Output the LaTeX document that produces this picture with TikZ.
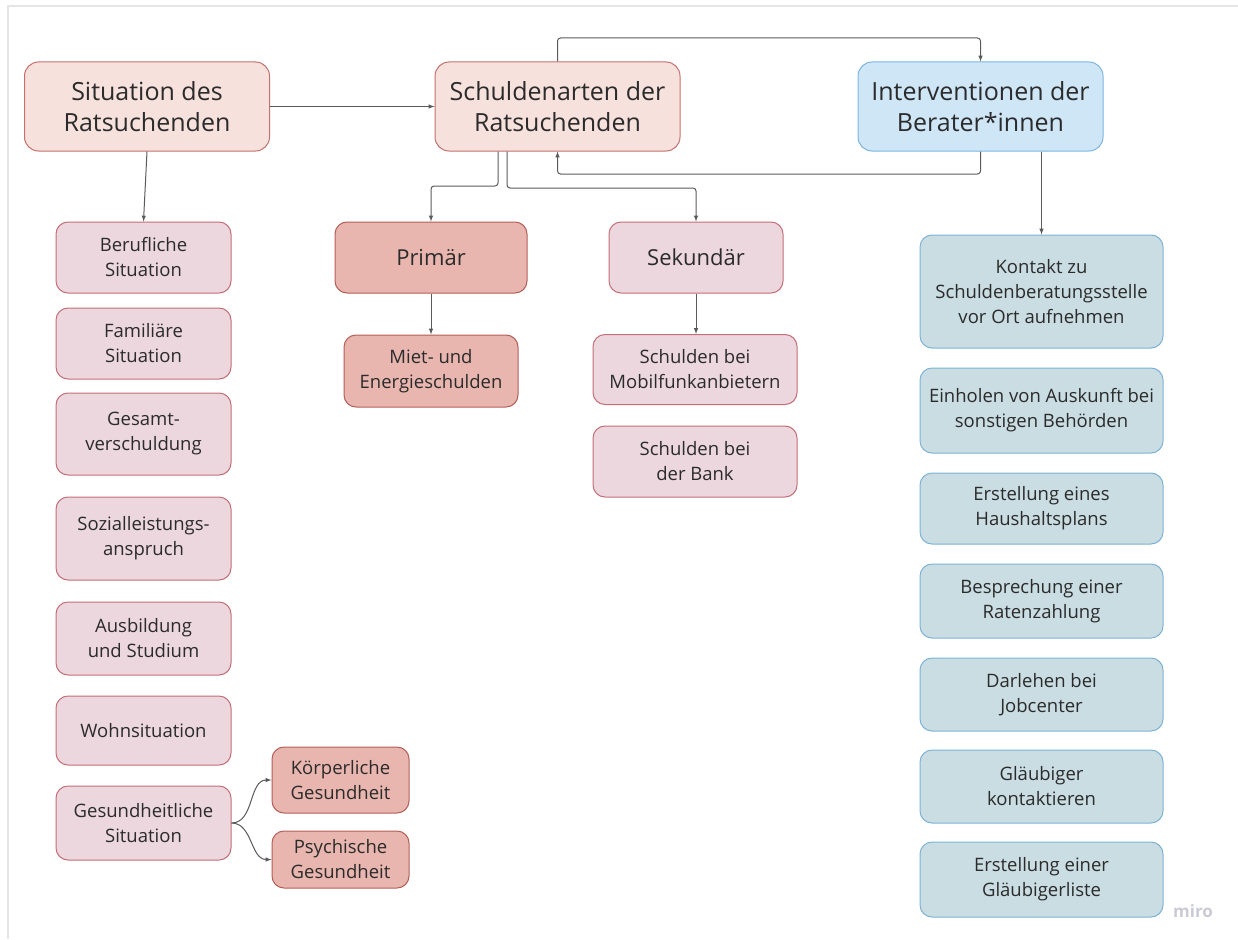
\documentclass[tikz,border=0pt]{standalone}
\usepackage{fontspec}
\setmainfont{Open Sans}
\usetikzlibrary{arrows,shapes,positioning}
\definecolor{inktext}{HTML}{2B2B2B}
\definecolor{linkgray}{HTML}{5A5A5A}
\definecolor{peachfill}{HTML}{F7E1DD}
\definecolor{peachline}{HTML}{C4706C}
\definecolor{bluefill}{HTML}{CFE6F7}
\definecolor{blueline}{HTML}{7DB4DF}
\definecolor{mauvefill}{HTML}{ECD7DF}
\definecolor{mauveline}{HTML}{C46E78}
\definecolor{salmonfill}{HTML}{E8B6AF}
\definecolor{salmonline}{HTML}{B35E58}
\definecolor{tealfill}{HTML}{C9DDE3}
\definecolor{tealline}{HTML}{7DB2D6}
\definecolor{markgray}{HTML}{CACAD6}
\tikzset{
    raw box/.style={rectangle, draw, line width=1pt, align=center, inner sep=0pt, text=inktext},
    head box/.style={raw box, rounded corners=14pt, minimum width=245pt, minimum height=89pt, font=\fontsize{25pt}{31pt}\selectfont},
    small box/.style={raw box, rounded corners=12pt, font=\fontsize{18.5pt}{25pt}\selectfont},
    peach/.style={fill=peachfill, draw=peachline},
    sky/.style={fill=bluefill, draw=blueline},
    mauve/.style={fill=mauvefill, draw=mauveline},
    salmon/.style={fill=salmonfill, draw=salmonline},
    teal/.style={fill=tealfill, draw=tealline},
    left col/.style={small box, mauve, minimum width=175pt},
    right col/.style={small box, teal, minimum width=243pt},
    link/.style={->, draw=linkgray, line width=1pt, rounded corners=3pt}
}
\begin{document}
\begin{tikzpicture}[x=1pt, y=-1pt, >=latex]
    \useasboundingbox (0,0) rectangle (1238,939);
    \draw[black!10, line width=2pt] (8,939) -- (8,6) -- (1238,6);

    % top row
    \node[head box, peach] (situation) at (147,106.5) {Situation des\\Ratsuchenden};
    \node[head box, peach] (schuldenarten) at (557.5,106.5) {Schuldenarten der\\Ratsuchenden};
    \node[head box, sky] (interventionen) at (980.5,106.5) {Interventionen der\\Berater*innen};

    % debt types
    \node[small box, salmon, minimum width=192pt, minimum height=71pt, font=\fontsize{22pt}{27pt}\selectfont] (primaer) at (431,257.5) {Primär};
    \node[small box, mauve, minimum width=174pt, minimum height=71pt, font=\fontsize{22pt}{27pt}\selectfont] (sekundaer) at (696,257.5) {Sekundär};
    \node[small box, salmon, minimum width=174pt, minimum height=72pt] (miete) at (431,371) {Miet- und\\Energieschulden};
    \node[small box, mauve, minimum width=204pt, minimum height=70pt] (mobilfunk) at (695,369.5) {Schulden bei\\Mobilfunkanbietern};
    \node[small box, mauve, minimum width=204pt, minimum height=71pt] (bank) at (695,461.5) {Schulden bei\\der Bank};

    % situation column
    \node[left col, minimum height=71pt] (beruf) at (143.5,257.5) {Berufliche\\Situation};
    \node[left col, minimum height=71pt] (familie) at (143.5,343.5) {Familiäre\\Situation};
    \node[left col, minimum height=82pt] (gesamt) at (143.5,434) {Gesamt-\\verschuldung};
    \node[left col, minimum height=83pt] (sozial) at (143.5,538.5) {Sozialleistungs-\\anspruch};
    \node[left col, minimum height=73pt] (ausbildung) at (143.5,638.5) {Ausbildung\\und Studium};
    \node[left col, minimum height=69pt] (wohnen) at (143.5,730.5) {Wohnsituation};
    \node[left col, minimum height=74pt] (gesundheit) at (143.5,823) {Gesundheitliche\\Situation};
    \node[small box, salmon, minimum width=137pt, minimum height=66pt] (koerper) at (340.5,780) {Körperliche\\Gesundheit};
    \node[small box, salmon, minimum width=137pt, minimum height=57pt] (psyche) at (340.5,859.5) {Psychische\\Gesundheit};

    % interventions column
    \node[right col, minimum height=113pt] (kontakt) at (1041.5,291.5) {Kontakt zu\\Schuldenberatungsstelle\\vor Ort aufnehmen};
    \node[right col, minimum height=85pt] (auskunft) at (1041.5,410.5) {Einholen von Auskunft bei\\sonstigen Behörden};
    \node[right col, minimum height=71pt] (haushalt) at (1041.5,508.5) {Erstellung eines\\Haushaltsplans};
    \node[right col, minimum height=74pt] (raten) at (1041.5,601) {Besprechung einer\\Ratenzahlung};
    \node[right col, minimum height=73pt] (darlehen) at (1041.5,694.5) {Darlehen bei\\Jobcenter};
    \node[right col, minimum height=73pt] (glaeubiger) at (1041.5,786.5) {Gläubiger\\kontaktieren};
    \node[right col, minimum height=75pt] (liste) at (1041.5,879.5) {Erstellung einer\\Gläubigerliste};

    \node[text=markgray, font=\fontsize{17pt}{20pt}\selectfont\bfseries] (miro) at (1193,911) {miro};

    % rails for the elbow connectors
    \coordinate (toprail) at (0,38);
    \coordinate (backrail) at (0,174);
    \coordinate (primrail) at (0,186);
    \coordinate (sekrail) at (0,188);

    \draw[link] (situation) -- (schuldenarten);
    \draw[link] (situation.south) -- (beruf.north);
    \draw[link] (schuldenarten.north) -- (schuldenarten.north |- toprail) -| (interventionen.north);
    \draw[link] (interventionen.south) -- (interventionen.south |- backrail) -| (schuldenarten.south);
    \draw[link] ([xshift=-59.5pt]schuldenarten.south) -- ([xshift=-59.5pt]schuldenarten.south |- primrail) -| (primaer.north);
    \draw[link] ([xshift=-50.5pt]schuldenarten.south) -- ([xshift=-50.5pt]schuldenarten.south |- sekrail) -| (sekundaer.north);
    \draw[link] (primaer) -- (miete);
    \draw[link] (sekundaer.south) -- (sekundaer.south |- mobilfunk.north);
    \draw[link] (kontakt.north |- interventionen.south) -- (kontakt.north);
    \draw[link] (gesundheit.east) to[out=0, in=180] (koerper.west);
    \draw[link] (gesundheit.east) to[out=0, in=180] (psyche.west);
\end{tikzpicture}
\end{document}
